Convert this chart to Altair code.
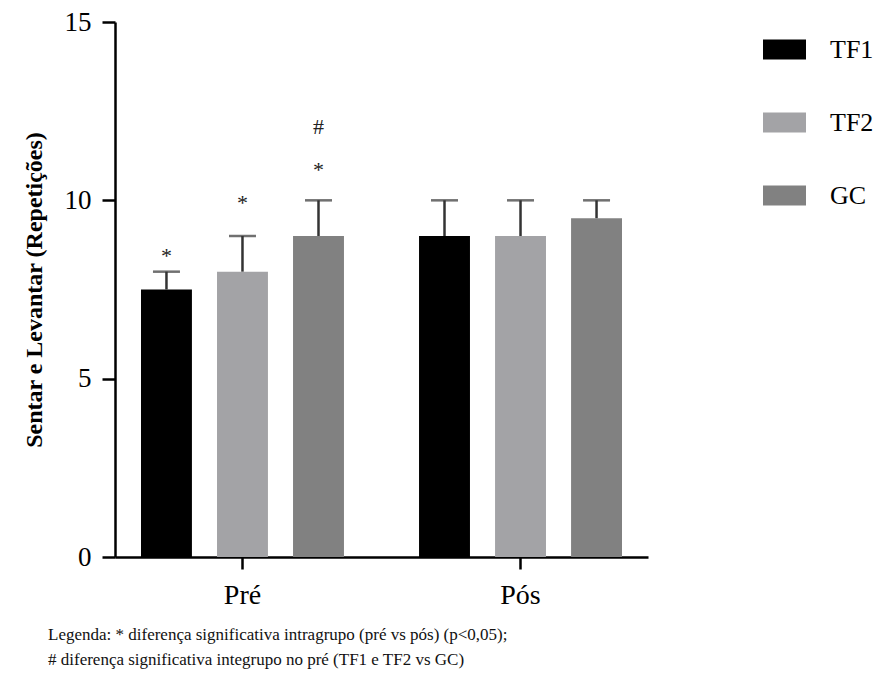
import altair as alt
import pandas as pd

groups = ["Pré", "Pré", "Pré", "Pós", "Pós", "Pós"]
series = ["TF1", "TF2", "GC", "TF1", "TF2", "GC"]
means = [7.5, 8.0, 9.0, 9.0, 9.0, 9.5]
uppers = [8.0, 9.0, 10.0, 10.0, 10.0, 10.0]

ann_groups = ["Pré", "Pré", "Pré", "Pré"]
ann_series = ["TF1", "TF2", "GC", "GC"]
ann_text = ["*", "*", "*", "#"]
ann_y = [8.45, 9.92, 10.85, 12.05]

series_order = ["TF1", "TF2", "GC"]
group_order = ["Pré", "Pós"]
colors = ["#000000", "#a3a3a6", "#818181"]

df = pd.DataFrame({"group": groups, "series": series, "mean": means, "upper": uppers})
ann = pd.DataFrame({"group": ann_groups, "series": ann_series, "txt": ann_text, "y": ann_y})

FONT = "Times New Roman"

x_enc = alt.X("group:N", sort=group_order,
              scale=alt.Scale(paddingInner=0.27, paddingOuter=0.0935),
              axis=alt.Axis(title=None, labelAngle=0, labelFontSize=28, labelFont=FONT,
                            labelColor="#000", domainColor="#000", domainWidth=2.5,
                            tickColor="#000", tickWidth=2.5, tickSize=12, labelPadding=12))
xoff = alt.XOffset("series:N", sort=series_order,
                   scale=alt.Scale(paddingInner=0.33, paddingOuter=0))
y_scale = alt.Scale(domain=[0, 15], nice=False)

bars = alt.Chart(df).mark_bar().encode(
    x=x_enc,
    xOffset=xoff,
    y=alt.Y("mean:Q", scale=y_scale,
            axis=alt.Axis(title="Sentar e Levantar (Repetições)", values=[0, 5, 10, 15],
                          grid=False, labelFontSize=27, labelFont=FONT, labelColor="#000",
                          titleFont=FONT, titleFontSize=24, titleFontWeight="bold",
                          titleColor="#000", titlePadding=18,
                          domainColor="#000", domainWidth=2.5, tickColor="#000",
                          tickWidth=2.5, tickSize=13, labelPadding=11)),
    color=alt.Color("series:N", sort=series_order,
                    scale=alt.Scale(domain=series_order, range=colors),
                    legend=alt.Legend(title=None)),
)

err = alt.Chart(df).mark_rule(color="#333333", strokeWidth=2.5).encode(
    x=alt.X("group:N", sort=group_order),
    xOffset=xoff,
    y="mean:Q",
    y2="upper:Q",
)

caps = alt.Chart(df).mark_tick(color="#333333", thickness=2.5, size=27).encode(
    x=alt.X("group:N", sort=group_order),
    xOffset=xoff,
    y="upper:Q",
)

texts = alt.Chart(ann).mark_text(font=FONT, fontSize=22, color="#222222", baseline="middle").encode(
    x=alt.X("group:N", sort=group_order),
    xOffset=xoff,
    y="y:Q",
    text="txt:N",
)

chart = alt.layer(bars, err, caps, texts).properties(
    width=533, height=535,
    autosize=alt.AutoSizeParams(type="none"),
    padding={"left": 107, "top": 14, "right": 230, "bottom": 115},
    title=alt.TitleParams(
        text=["Legenda: * diferença significativa intragrupo (pré vs pós) (p<0,05);",
              "# diferença significativa integrupo no pré (TF1 e TF2 vs GC)"],
        orient="bottom", anchor="start", frame="group", dx=-67, offset=18,
        font=FONT, fontSize=17, fontWeight="normal", color="#111111", lineHeight=25,
    ),
).configure_view(stroke=None).configure_legend(
    orient="none", legendX=648, legendY=6, padding=0,
    symbolType="M-1,-0.47H1V0.47H-1Z", symbolSize=1849, symbolStrokeWidth=0,
    labelFont=FONT, labelFontSize=26, labelColor="#000", labelOffset=24,
    rowPadding=38,
)

chart.save("out.html", embed_options={"renderer": "svg", "actions": False})
